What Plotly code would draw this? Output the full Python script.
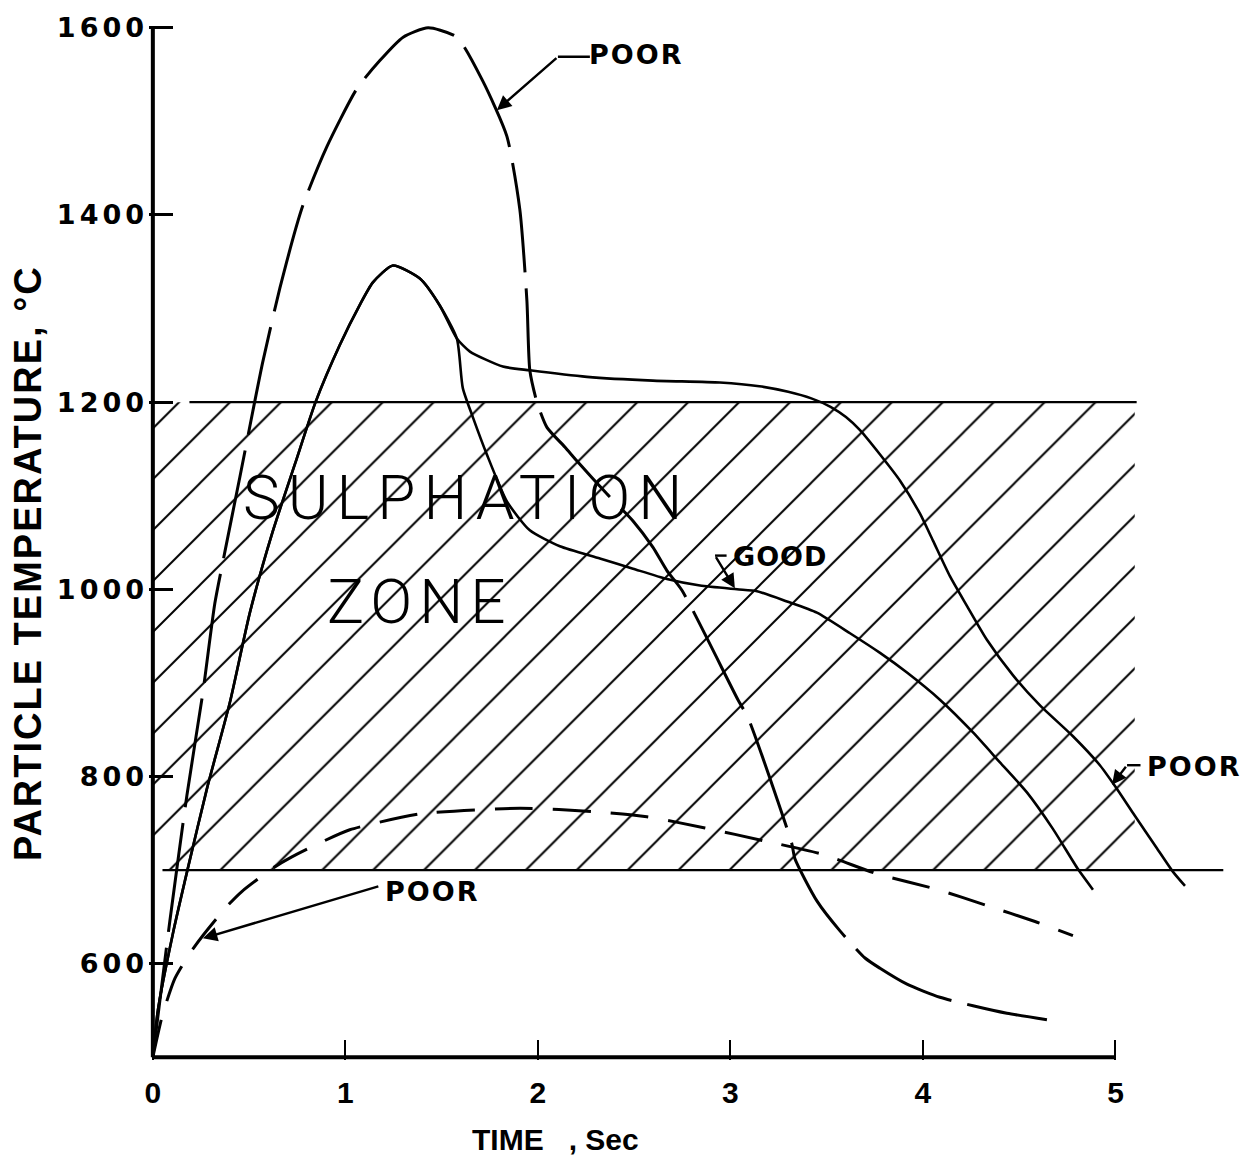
import plotly.graph_objects as go

# ---------------- data ----------------
# Upper long-dashed "POOR" curve
TIME_A = [0, 0.088, 0.177, 0.26, 0.322, 0.374, 0.452, 0.519, 0.571, 0.66, 0.779, 0.904,
          1.06, 1.179, 1.30, 1.43, 1.579, 1.714, 1.839, 1.906, 1.943, 1.958, 1.995, 2.047,
          2.14, 2.203, 2.358, 2.494, 2.597, 2.67, 2.748, 3.039, 3.091, 3.247, 3.319, 3.335,
          3.449, 3.569, 3.699, 3.777, 3.917, 4.088, 4.26, 4.436, 4.644]
TEMP_A = [500, 645, 780, 890, 985, 1040, 1120, 1190, 1243, 1322, 1410, 1473,
          1535, 1565, 1590, 1600, 1590, 1543, 1484, 1406, 1308, 1234, 1200, 1173,
          1152, 1137, 1102, 1073, 1045, 1020, 999, 882, 863, 773, 728, 712,
          667, 635, 606, 595, 578, 564, 555, 547, 540]

# Common rise of the two solid curves
TIME_RISE = [0, 0.026, 0.104, 0.182, 0.281, 0.4, 0.504, 0.62, 0.74, 0.845, 0.971, 1.075,
             1.143, 1.247, 1.387, 1.491, 1.579]
TEMP_RISE = [500, 550, 632, 702, 787, 879, 975, 1060, 1135, 1200, 1261, 1304,
             1328, 1346, 1332, 1303, 1268]

# Solid "POOR" branch (plateau near 1220 C)
TIME_C = [1.647, 1.818, 1.958, 2.255, 2.597, 2.945, 3.15, 3.30, 3.42, 3.52, 3.60, 3.673,
          3.777, 3.881, 3.984, 4.052, 4.14, 4.229, 4.332, 4.468, 4.608, 4.779, 4.919, 5.0,
          5.091, 5.216, 5.299, 5.361]
TEMP_C = [1254, 1238, 1234, 1227, 1223, 1221, 1217, 1211, 1204, 1195, 1184, 1170,
          1144, 1116, 1081, 1052, 1014, 982, 946, 908, 876, 843, 812, 789,
          761, 723, 698, 683]

# Solid "GOOD" branch (plateau near 1000 C)
TIME_D = [1.61, 1.662, 1.735, 1.839, 1.958, 2.114, 2.322, 2.494, 2.67, 2.842, 3.034, 3.138,
          3.294, 3.449, 3.621, 3.777, 3.917, 4.088, 4.26, 4.4, 4.54, 4.675, 4.805, 4.883]
TEMP_D = [1215, 1184, 1144, 1094, 1063, 1046, 1033, 1022, 1011, 1004, 1000, 998,
          987, 975, 953, 932, 911, 882, 847, 815, 783, 744, 701, 679]

# Lower dashed "POOR" curve
TIME_E = [0, 0.05, 0.114, 0.192, 0.26, 0.384, 0.462, 0.623, 0.722, 0.878, 1.023, 1.387,
          1.906, 2.322, 2.566, 2.868, 3.179, 3.475, 3.761, 4.078, 4.332, 4.582, 4.779]
TEMP_E = [500, 545, 584, 611, 630, 661, 677, 702, 714, 730, 743, 760,
          766, 762, 757, 745, 731, 717, 696, 679, 662, 645, 630]

# Sulphation zone
ZONE_LOW = 700
ZONE_HIGH = 1200
ZONE_TIME = [0, 5.1]
ZONE_HIGH_LINE_TIME = [0.19, 5.11]
ZONE_LOW_LINE_TIME = [0.05, 5.56]

X_TICKS = [0, 1, 2, 3, 4, 5]
Y_TICKS = [600, 800, 1000, 1200, 1400, 1600]

# ---------------- figure ----------------
INK = "black"
fig = go.Figure()

# hatched zone
fig.add_trace(go.Scatter(
    x=[ZONE_TIME[0], ZONE_TIME[1], ZONE_TIME[1], ZONE_TIME[0]],
    y=[ZONE_LOW, ZONE_LOW, ZONE_HIGH, ZONE_HIGH],
    fill="toself", mode="lines", line=dict(width=0),
    fillcolor="rgba(0,0,0,0)",
    fillpattern=dict(shape="/", size=36, solidity=0.055, fgcolor=INK,
                     bgcolor="rgba(0,0,0,0)", fillmode="replace"),
    hoverinfo="skip", showlegend=False))

# zone boundary lines
fig.add_trace(go.Scatter(x=ZONE_HIGH_LINE_TIME, y=[ZONE_HIGH, ZONE_HIGH], mode="lines",
                         line=dict(color=INK, width=2.2), showlegend=False))
fig.add_trace(go.Scatter(x=ZONE_LOW_LINE_TIME, y=[ZONE_LOW, ZONE_LOW], mode="lines",
                         line=dict(color=INK, width=2.2), showlegend=False))

# curves
fig.add_trace(go.Scatter(x=TIME_A, y=TEMP_A, mode="lines", line_shape="spline",
                         line=dict(color=INK, width=3, dash="110px,16px", smoothing=0.6),
                         showlegend=False))
fig.add_trace(go.Scatter(x=TIME_RISE + TIME_C, y=TEMP_RISE + TEMP_C, mode="lines",
                         line_shape="spline",
                         line=dict(color=INK, width=2.6, smoothing=0.6), showlegend=False))
fig.add_trace(go.Scatter(x=TIME_RISE + TIME_D, y=TEMP_RISE + TEMP_D, mode="lines",
                         line_shape="spline",
                         line=dict(color=INK, width=2.6, smoothing=0.6), showlegend=False))
fig.add_trace(go.Scatter(x=TIME_E, y=TEMP_E, mode="lines", line_shape="spline",
                         line=dict(color=INK, width=3, dash="38px,20px", smoothing=0.6),
                         showlegend=False))


def spaced(txt, px):
    return f'<span style="letter-spacing:{px}px">{txt}</span>'


LABEL_FONT = dict(family="DejaVu Sans", size=27, color=INK, weight="bold")
ZONE_FONT = dict(family="Roboto", size=62, color=INK, weight=300)

annotations = [
    # labels
    dict(x=2.509, y=1572, text=spaced("POOR", 2), showarrow=False, font=LABEL_FONT),
    dict(x=5.408, y=811, text=spaced("POOR", 2), showarrow=False, font=LABEL_FONT),
    dict(x=3.257, y=1035, text=spaced("GOOD", 1), showarrow=False, font=LABEL_FONT),
    dict(x=1.449, y=677, text=spaced("POOR", 2), showarrow=False, font=LABEL_FONT),
    # zone text
    dict(x=1.631, y=1098, text=spaced("SULPHATION", 8), showarrow=False, font=ZONE_FONT),
    dict(x=1.387, y=987, text=spaced("ZONE", 7), showarrow=False, font=ZONE_FONT),
]
# arrow leaders
for tip, tail in [((1.787, 1512), (2.104, 1569)),
                  ((4.982, 791), (5.060, 812)),
                  ((3.023, 1001), (2.92, 1036)),
                  ((0.26, 627), (1.179, 683))]:
    annotations.append(dict(x=tip[0], y=tip[1], ax=tail[0], ay=tail[1],
                            xref="x", yref="y", axref="x", ayref="y",
                            text="", showarrow=True, arrowhead=2, arrowsize=1.2,
                            arrowwidth=2.4, arrowcolor=INK, standoff=0, startstandoff=0))

# axis titles
annotations.append(dict(x=2.09, y=-0.077, xref="x", yref="paper", showarrow=False,
                        xanchor="center", yanchor="middle",
                        text="TIME &nbsp;&nbsp;, Sec",
                        font=dict(family="Liberation Sans Narrow, Liberation Sans", size=30,
                                  color=INK, weight="bold")))
annotations.append(dict(x=-0.1118, y=1028, xref="paper", yref="y", showarrow=False,
                        xanchor="center", yanchor="middle",
                        textangle=-90, text=spaced("PARTICLE TEMPERATURE, °C", 2),
                        font=dict(family="Liberation Sans Narrow, Liberation Sans", size=38,
                                  color=INK, weight="bold")))

shapes = [
    # axes
    dict(type="line", xref="x", yref="y", x0=0, x1=0, y0=500, y1=1600,
         line=dict(color=INK, width=4)),
    dict(type="line", xref="x", yref="y", x0=0, x1=5, y0=500, y1=500,
         line=dict(color=INK, width=4)),
    # leader stubs
    dict(type="line", xref="x", yref="y", x0=2.104, x1=2.27, y0=1569, y1=1569,
         line=dict(color=INK, width=2.4)),
    dict(type="line", xref="x", yref="y", x0=5.060, x1=5.13, y0=812, y1=812,
         line=dict(color=INK, width=2.4)),
    dict(type="line", xref="x", yref="y", x0=2.92, x1=2.98, y0=1036, y1=1036,
         line=dict(color=INK, width=2.4)),
]

fig.update_layout(
    width=1256, height=1159,
    margin=dict(l=149, r=25, t=18, b=99),
    paper_bgcolor="white", plot_bgcolor="white",
    showlegend=False,
    annotations=annotations,
    shapes=shapes,
    xaxis=dict(range=[-0.02, 5.6], showgrid=False, zeroline=False, showline=False,
               tickvals=X_TICKS, ticks="inside", ticklen=20, tickwidth=2, tickcolor=INK,
               ticklabelstandoff=12,
               tickfont=dict(family="Liberation Sans Narrow, Liberation Sans", size=30,
                             color=INK, weight="bold")),
    yaxis=dict(range=[497, 1603], showgrid=False, zeroline=False, showline=False,
               tickvals=Y_TICKS, ticktext=[spaced(v, 4) for v in Y_TICKS],
               ticks="inside", ticklen=24, tickwidth=2.5, tickcolor=INK,
               ticklabelstandoff=0,
               tickfont=dict(family="DejaVu Sans", size=27, color=INK, weight="bold")),
)

fig.write_html("out.html")
